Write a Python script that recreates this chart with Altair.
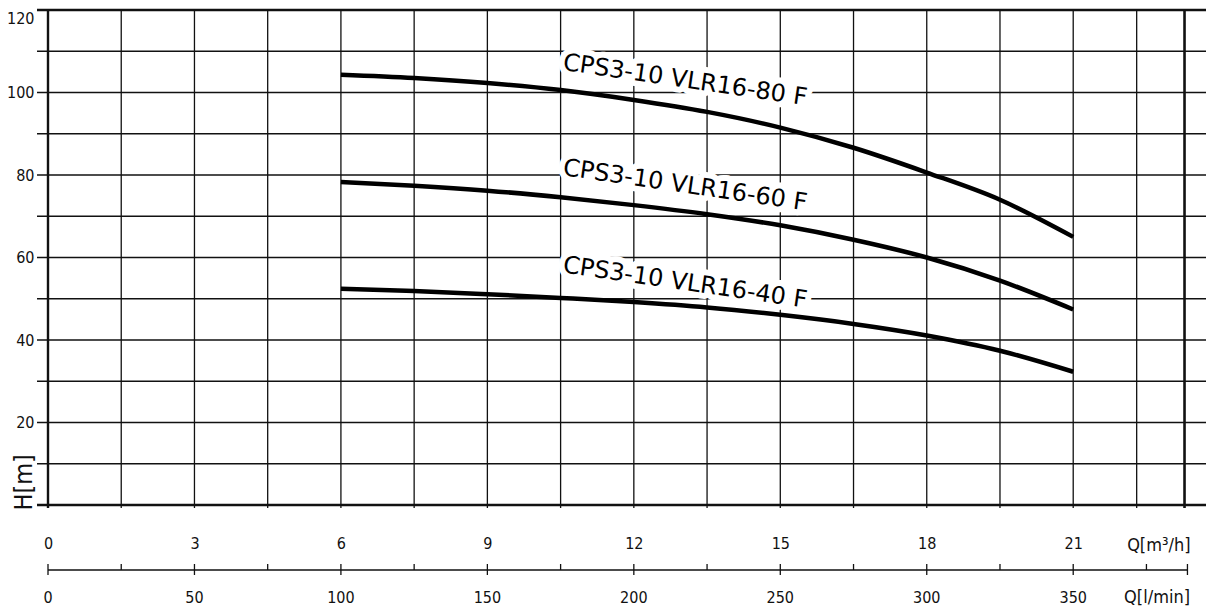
import altair as alt
import pandas as pd

# ---------------- data ----------------
q_m3h = [6, 7.5, 9, 10.5, 12, 13.5, 15, 16.5, 18, 19.5, 21]
h_80 = [104.3, 103.5, 102.3, 100.6, 98.2, 95.3, 91.5, 86.6, 80.6, 74.0, 65.0]
h_60 = [78.3, 77.4, 76.2, 74.6, 72.7, 70.5, 67.8, 64.3, 60.0, 54.4, 47.4]
h_40 = [52.4, 51.9, 51.1, 50.2, 49.2, 47.9, 46.1, 43.9, 41.1, 37.4, 32.3]
series_names = ["CPS3-10 VLR16-80 F", "CPS3-10 VLR16-60 F", "CPS3-10 VLR16-40 F"]

label_q = [13.05, 13.05, 13.05]
label_h = [102.9, 77.4, 53.8]

y_tick_values = [20, 40, 60, 80, 100, 120]
x_tick_values = [0, 3, 6, 9, 12, 15, 18, 21]
lmin_major = [0, 50, 100, 150, 200, 250, 300, 350]
lmin_minor = [25, 75, 125, 175, 225, 275, 325, 375]
lmin_end = 389

hgrid_h = [0, 10, 20, 30, 40, 50, 60, 70, 80, 90, 100, 110, 120]
vgrid_q = [0, 1.5, 3, 4.5, 6, 7.5, 9, 10.5, 12, 13.5, 15, 16.5, 18, 19.5, 21, 22.3]
border_q = 23.28

X_MAX = 23.72
W, H = 1158, 495
NARROW = "Liberation Sans Narrow, DejaVu Sans Condensed, Arial Narrow, sans-serif"
LABEL_FONT = "DejaVu Sans, sans-serif"
INK = "#111111"

xs = alt.Scale(domain=[0, X_MAX], nice=False, zero=False)
ys = alt.Scale(domain=[0, 120], nice=False, zero=False)

x_axis = alt.Axis(
    values=x_tick_values, domain=False, ticks=False, grid=False,
    labelPadding=30, labelFontSize=16, labelFont=NARROW, labelColor=INK,
    labelFlush=False,
    title="Q[m³/h]", titleX=1142, titleY=40, titleAlign="right",
    titleBaseline="middle", titleFontSize=18, titleFont=NARROW,
    titleFontWeight="normal", titleColor=INK, titleAngle=0,
)
y_axis = alt.Axis(
    values=y_tick_values, domain=False, ticks=False, grid=False,
    labelPadding=14, labelFontSize=16, labelFont=NARROW, labelColor=INK,
    labelFlush=True,
    title="H[m]", titleX=-25, titleY=500, titleAlign="left",
    titleBaseline="middle", titleAngle=270, titleFontSize=25,
    titleFont=NARROW, titleFontWeight="normal", titleColor=INK,
)

# ---------------- tables ----------------
curves = pd.DataFrame(
    [{"q": q, "h": h, "s": series_names[0]} for q, h in zip(q_m3h, h_80)]
    + [{"q": q, "h": h, "s": series_names[1]} for q, h in zip(q_m3h, h_60)]
    + [{"q": q, "h": h, "s": series_names[2]} for q, h in zip(q_m3h, h_40)]
)
labels = pd.DataFrame({"q": label_q, "h": label_h, "t": series_names})

hgrid = pd.DataFrame({
    "h": hgrid_h,
    "q": [-0.225] * len(hgrid_h),
    "x2": [X_MAX] * len(hgrid_h),
    "w": [2.4 if h in (0, 120) else 1.3 for h in hgrid_h],
})
vgrid = pd.DataFrame({
    "q": vgrid_q + [border_q],
    "h": [-0.75] * (len(vgrid_q) + 1),
    "y2": [120] * (len(vgrid_q) + 1),
    "w": [2.4] + [1.3] * (len(vgrid_q) - 1) + [2.6],
})

X = alt.X("q:Q", scale=xs, axis=x_axis)
Y = alt.Y("h:Q", scale=ys, axis=y_axis)

# ---------------- layers ----------------
h_lines = alt.Chart(hgrid).mark_rule(color=INK).encode(
    x=X, x2="x2:Q", y=Y,
    strokeWidth=alt.StrokeWidth("w:Q", scale=None),
)
v_lines = alt.Chart(vgrid).mark_rule(color=INK).encode(
    x=X, y=Y, y2="y2:Q",
    strokeWidth=alt.StrokeWidth("w:Q", scale=None),
)

halo = alt.Chart(labels).mark_text(
    angle=8.3, font=LABEL_FONT, fontSize=24, fill="white", stroke="white",
    strokeWidth=12, strokeJoin="round", align="center", baseline="middle",
).encode(x=X, y=Y, text="t:N")

lines = alt.Chart(curves).mark_line(
    color="black", strokeWidth=4.5, interpolate="monotone", strokeCap="butt"
).encode(x=X, y=Y, detail="s:N")

label_text = alt.Chart(labels).mark_text(
    angle=8.3, font=LABEL_FONT, fontSize=24, color="black",
    align="center", baseline="middle",
).encode(x=X, y=Y, text="t:N")

# second (l/min) axis drawn below the m3/h labels
lmin_line = alt.Chart(pd.DataFrame({"a": [0], "b": [lmin_end]})).transform_calculate(
    q="datum.a * 3 / 50", qb="datum.b * 3 / 50"
).mark_rule(color=INK, strokeWidth=1.3).encode(
    x=X, x2="qb:Q", y=alt.value(560)
)
lmin_major_ticks = alt.Chart(pd.DataFrame({"l": lmin_major + [lmin_end]})).transform_calculate(
    q="datum.l * 3 / 50"
).mark_rule(color=INK, strokeWidth=1.3).encode(
    x=X, y=alt.value(554), y2=alt.value(565)
)
lmin_minor_ticks = alt.Chart(pd.DataFrame({"l": lmin_minor})).transform_calculate(
    q="datum.l * 3 / 50"
).mark_rule(color=INK, strokeWidth=1.3).encode(
    x=X, y=alt.value(554), y2=alt.value(560)
)
lmin_labels = alt.Chart(pd.DataFrame({"l": lmin_major})).transform_calculate(
    q="datum.l * 3 / 50"
).mark_text(font=NARROW, fontSize=16, color=INK, align="center", baseline="middle").encode(
    x=X, y=alt.value(588), text="l:Q"
)
lmin_title = alt.Chart(pd.DataFrame({"t": ["Q[l/min]"]})).mark_text(
    font=NARROW, fontSize=18, color=INK, align="right", baseline="middle"
).encode(x=alt.value(1142), y=alt.value(588), text="t:N")

chart = alt.layer(
    h_lines, v_lines, halo, lines, label_text,
    lmin_line, lmin_major_ticks, lmin_minor_ticks, lmin_labels, lmin_title,
).properties(
    width=W, height=H,
    autosize=alt.AutoSizeParams(type="none"),
    padding={"left": 48, "top": 10, "right": 0, "bottom": 105},
    background="white",
).configure_view(stroke=None)

chart.save("out.html", embed_options={"renderer": "svg", "actions": False})
